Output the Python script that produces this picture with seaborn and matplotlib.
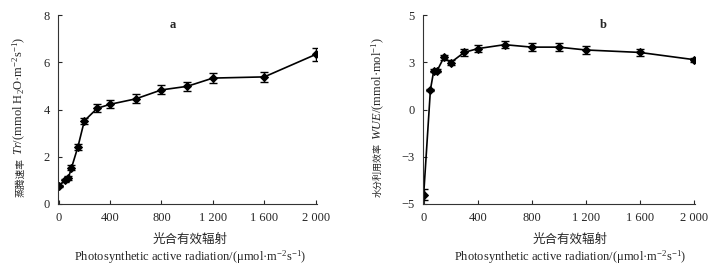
import numpy as np
import pandas as pd
import matplotlib
matplotlib.use("Agg")
import matplotlib.pyplot as plt
import seaborn as sns

# Datos
par = [0, 50, 75, 100, 150, 200, 300, 400, 600, 800, 1000, 1200, 1600, 2000]
tr_mean = [0.76, 1.0, 1.1, 1.53, 2.42, 3.52, 4.05, 4.22, 4.45, 4.83, 4.98, 5.33, 5.38, 6.33]
tr_se = [0.06, 0.06, 0.07, 0.1, 0.14, 0.14, 0.17, 0.17, 0.19, 0.19, 0.2, 0.2, 0.2, 0.27]
wue_mean = [-4.5, 1.05, 2.06, 2.06, 2.76, 2.48, 3.02, 3.22, 3.43, 3.30, 3.30, 3.15, 3.02, 2.64]
wue_se = [0.28, 0.05, 0.1, 0.1, 0.15, 0.13, 0.18, 0.2, 0.2, 0.2, 0.2, 0.22, 0.17, 0.11]

x_ticks = [0, 400, 800, 1200, 1600, 2000]
x_ticklabels = ["0", "400", "800", "1 200", "1 600", "2 000"]
tr_ticks = [0, 2, 4, 6, 8]
wue_ticks = [-5, -2.5, 0, 2.5, 5]
wue_ticklabels = ["\u22125", "\u22123", "0", "3", "5"]

df = pd.DataFrame({"par": par, "tr": tr_mean, "tr_se": tr_se,
                   "wue": wue_mean, "wue_se": wue_se})

sns.set_style("ticks")
plt.rcParams["font.family"] = ["Liberation Serif", "Noto Sans CJK SC"]
plt.rcParams["mathtext.fontset"] = "custom"
plt.rcParams["mathtext.rm"] = "Liberation Serif"
plt.rcParams["mathtext.it"] = "Liberation Serif:italic"
plt.rcParams["axes.unicode_minus"] = True

fig = plt.figure(figsize=(7.19, 2.73), dpi=100)
ax1 = fig.add_axes([58 / 719, 1 - 204 / 273, 259 / 719, 189 / 273])
ax2 = fig.add_axes([423 / 719, 1 - 204 / 273, 272 / 719, 189 / 273])

xlab_cn = "光合有效辐射"
xlab_en = "Photosynthetic active radiation/(\u03bcmol\u00b7m$^{-2}$s$^{-1}$)"

# (eje, columna, error, ylim, ticks, etiquetas, ylabel chino, ylabel resto, letra, ...)
panels = [
    (ax1, "tr", "tr_se", (0, 8), tr_ticks, [str(t) for t in tr_ticks],
     "蒸腾速率", " $Tr$/(mmol H$_2$O\u00b7m$^{-2}$s$^{-1}$)", "a", 0.444, 0.51,
     -0.147, 0.243, 7),
    (ax2, "wue", "wue_se", (-5, 5), wue_ticks, wue_ticklabels,
     "水分利用效率", " $WUE$/(mmol\u00b7mol$^{-1}$)", "b", 0.662, 0.54,
     -0.165, 0.323, 6.5),
]

for (ax, col, err, ylim, yt, ytl, ylab_cn, ylab_rest, tag, tagx, xlx,
     ylx, ysplit, cn_size) in panels:
    sns.lineplot(data=df, x="par", y=col, ax=ax, color="black", lw=1.2,
                 marker="D", markersize=4, markeredgecolor="black")
    ax.errorbar(df["par"], df[col], yerr=df[err], fmt="none", ecolor="black",
                elinewidth=1.0, capsize=3, capthick=1.0)
    ax.set_xlim(-5, 2010)
    ax.set_ylim(*ylim)
    ax.set_xticks(x_ticks)
    ax.set_xticklabels(x_ticklabels)
    ax.set_yticks(yt)
    ax.set_yticklabels(ytl)
    ax.tick_params(direction="in", length=3, width=0.8, labelsize=9, pad=6)
    for s in ["top", "right"]:
        ax.spines[s].set_visible(False)
    for s in ["left", "bottom"]:
        ax.spines[s].set_linewidth(0.8)
        ax.spines[s].set_color("#333333")
    ax.set_xlabel("")
    ax.set_ylabel("")
    ax.text(tagx, 0.945, tag, transform=ax.transAxes, ha="center", va="center",
            fontsize=9, fontweight="bold")
    ax.text(xlx, -0.19, xlab_cn, transform=ax.transAxes, ha="center", va="center",
            fontsize=9)
    ax.text(xlx, -0.28, xlab_en, transform=ax.transAxes, ha="center", va="center",
            fontsize=9)
    # ylabel dividido: parte china abajo, resto (mathtext) arriba
    ax.text(ylx, ysplit, ylab_cn, transform=ax.transAxes, ha="center", va="top",
            rotation=90, fontsize=cn_size, family="Noto Sans CJK SC")
    ax.text(ylx, ysplit, ylab_rest, transform=ax.transAxes, ha="center", va="bottom",
            rotation=90, fontsize=9)

fig.savefig("out.png", dpi=100)
